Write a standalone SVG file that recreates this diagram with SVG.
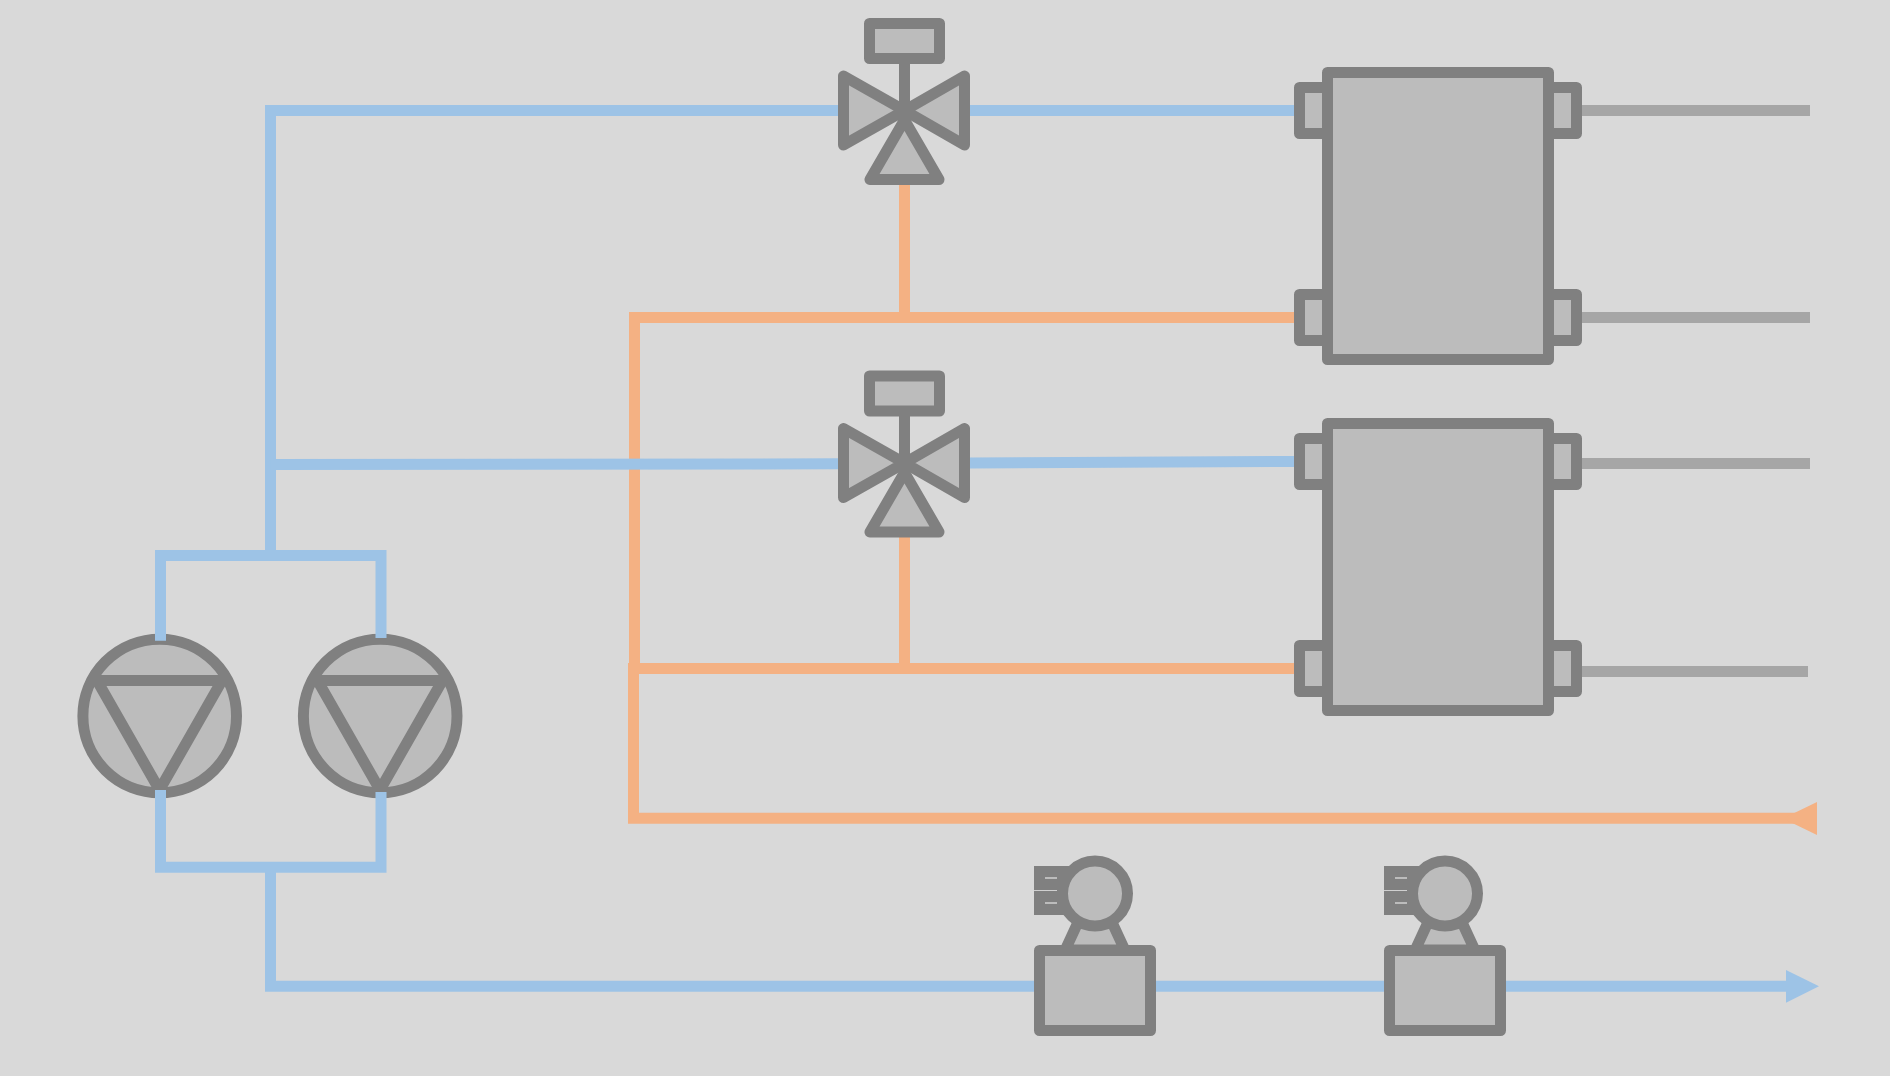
<svg xmlns="http://www.w3.org/2000/svg" width="1890" height="1076" viewBox="0 0 1890 1076">
<style>
.pipe{fill:none;stroke-width:11;stroke-linejoin:miter;stroke-linecap:butt}
.blue{stroke:#9dc3e6}
.orange{stroke:#f4b183}
.grey{stroke:#a6a6a6}
.sym{fill:#bcbcbc;stroke:#808080;stroke-width:11;stroke-linejoin:round}
.outline{fill:none;stroke:#808080;stroke-width:11;stroke-linejoin:round}
.line{fill:none;stroke:#808080;stroke-width:11}
.block{fill:#808080}
.tick{fill:none;stroke:#bcbcbc;stroke-width:2}
.hair{fill:none;stroke:#d0d0d0;stroke-width:1}
</style>
<defs>
<g id="valve">
<line class="line" x1="904.5" y1="58" x2="904.5" y2="112"/>
<rect class="sym" x="869.5" y="23.5" width="70" height="35"/>
<polygon class="sym" points="843.5,76 843.5,145 904.5,110.5"/>
<polygon class="sym" points="964.5,76 964.5,145 904.5,110.5"/>
<polygon class="sym" points="904.5,120 870,179.5 939,179.5"/>
</g>
<g id="exchanger">
<rect class="sym" x="1299.5" y="87.5" width="40" height="46"/>
<rect class="sym" x="1299.5" y="294.5" width="40" height="46"/>
<rect class="sym" x="1536" y="87.5" width="40.5" height="46"/>
<rect class="sym" x="1536" y="294.5" width="40.5" height="46"/>
<rect class="sym" x="1327.5" y="72.5" width="221" height="287"/>
</g>
<g id="pump">
<circle class="sym" cx="159.7" cy="716" r="76.8"/>
<polygon class="outline" points="97,680.5 222,680.5 159.5,790"/>
</g>
<g id="transmitter">
<rect class="block" x="1034" y="866" width="40" height="49"/>
<line class="hair" x1="1034" y1="890.5" x2="1057" y2="890.5"/>
<line class="tick" x1="1045" y1="878" x2="1057" y2="878"/>
<line class="tick" x1="1045" y1="903" x2="1057" y2="903"/>
<polygon class="sym" points="1086,905 1104,905 1124.8,950 1065.2,950"/>
<circle class="sym" cx="1095" cy="893.5" r="32.5"/>
<rect class="sym" x="1039.5" y="950.5" width="111" height="80"/>
</g>
</defs>
<rect id="background" width="1890" height="1076" fill="#d9d9d9"/>

<g id="node-pump-1"><use href="#pump"/></g>
<g id="node-pump-2"><use href="#pump" x="220.5"/></g>

<g id="connectors">
<path class="pipe orange" d="M904.5 185V317.5"/>
<path class="pipe orange" d="M1294 317.5H634.5V673"/>
<path class="pipe orange" d="M904.5 537V668.5"/>
<path class="pipe orange" d="M1294 668.5H633.5V818.2H1796"/>
<polygon fill="#f4b183" points="1817,802 1817,835 1783,818.5"/>
<path class="pipe grey" d="M1582 110.5H1810"/>
<path class="pipe grey" d="M1582 317.5H1810"/>
<path class="pipe grey" d="M1582 463.5H1810"/>
<path class="pipe grey" d="M1582 671.5H1808"/>
<path class="pipe blue" d="M838 110.5H270.5V555.500"/>
<path class="pipe blue" d="M970 110.5H1294"/>
<path class="pipe blue" d="M270.5 464.5L838 463.8"/>
<path class="pipe blue" d="M970 463L1294 461.5"/>
<path class="pipe blue" d="M160.5 640.7V555.5H381V638"/>
<path class="pipe blue" d="M160.5 790V867.2H381V792"/>
<path class="pipe blue" d="M270.5 867.2V986.2H1788"/>
<polygon fill="#9dc3e6" points="1786,970 1786,1002.7 1819,986.3"/>
</g>

<g id="node-valve-1"><use href="#valve"/></g>
<g id="node-valve-2"><use href="#valve" y="352.5"/></g>
<g id="node-exchanger-1"><use href="#exchanger"/></g>
<g id="node-exchanger-2"><use href="#exchanger" y="351"/></g>
<g id="node-transmitter-1"><use href="#transmitter"/></g>
<g id="node-transmitter-2"><use href="#transmitter" x="350"/></g>
</svg>
